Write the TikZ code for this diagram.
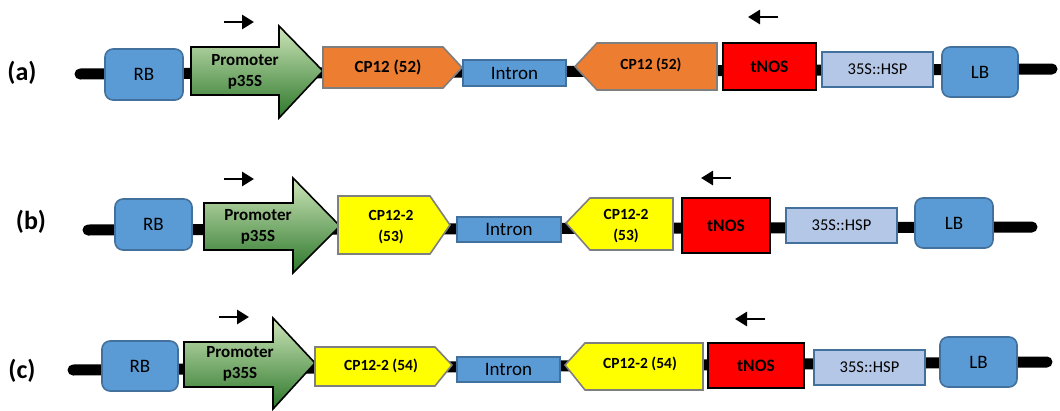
\documentclass[tikz,border=0pt]{standalone}
\usepackage{fontspec}
\setmainfont{Carlito}
\usetikzlibrary{arrows.meta}
\definecolor{bfill}{HTML}{5B9BD5}
\definecolor{bdraw}{HTML}{41719C}
\definecolor{lbfill}{HTML}{B4C7E7}
\definecolor{ofill}{HTML}{ED7D31}
\definecolor{yfill}{HTML}{FFFF00}
\definecolor{rfill}{HTML}{FF0000}
\definecolor{gtop}{HTML}{CDE5B9}
\definecolor{gbot}{HTML}{2C772A}
\definecolor{gborder}{HTML}{7F7F7F}
\tikzset{
  backbone/.style={line width=11pt, line cap=round, black},
  rbox/.style={draw=bdraw, fill=bfill, line width=1.6pt, rounded corners=8pt, inner sep=0pt, font=\fontsize{19}{22}\selectfont},
  intronbox/.style={draw=bdraw, fill=bfill, line width=1.6pt, inner sep=0pt, font=\fontsize{19}{22}\selectfont},
  hspbox/.style={draw=bdraw, fill=lbfill, line width=1.6pt, inner sep=0pt, font=\fontsize{16.5}{19}\selectfont},
  tnosbox/.style={draw=black, fill=rfill, line width=2pt, inner sep=0pt, font=\bfseries\fontsize{17.5}{20}\selectfont},
  promshape/.style={draw=black, line width=1.6pt, top color=gtop, bottom color=gbot, line join=miter},
  orshape/.style={draw=gborder, fill=ofill, line width=1.6pt},
  yeshape/.style={draw=gborder, fill=yfill, line width=1.6pt},
  promtext/.style={align=center, inner sep=0pt, font=\bfseries\fontsize{17}{21}\selectfont},
  cptext/.style={align=center, inner sep=0pt, font=\bfseries\fontsize{17}{21}\selectfont},
  cpsmall/.style={align=center, inner sep=0pt, font=\bfseries\fontsize{15.5}{21}\selectfont},
  rowlabel/.style={inner sep=0pt, font=\bfseries\fontsize{26}{30}\selectfont},
  dirarrow/.style={line width=2.8pt, -{Triangle[length=12pt,width=14pt]}},
}
\begin{document}
\begin{tikzpicture}[x=1pt,y=-1pt]
\useasboundingbox (0,0) rectangle (1060,410);
% ---------------- row (a)
\node[rowlabel] (la) at (22,73) {(a)};
\coordinate (aL) at (80,74);
\coordinate (aR) at (1052,69);
\draw[backbone] (aL) -- (aR);
\node[rbox, minimum width=78pt, minimum height=51pt] (aRB) at (144,74.5) {RB};
\path[promshape] (191,47) -- (279,47) -- (279,26) -- (323,71) -- (279,118) -- (279,95) -- (191,95) -- cycle;
\node[promtext] (aProm) at (245,72) {Promoter\\p35S};
\path[orshape] (323,47) -- (443,47) -- (462,67.5) -- (443,88) -- (323,88) -- cycle;
\node[cptext] (aCPf) at (388,67) {CP12 (52)};
\node[intronbox, minimum width=103pt, minimum height=26pt] (aIntron) at (514.5,73) {Intron};
\path[orshape] (575,66.5) -- (597,43) -- (717,43) -- (717,90) -- (597,90) -- cycle;
\node[cpsmall] (aCPr) at (651,65) {CP12 (52)};
\node[tnosbox, minimum width=93pt, minimum height=47pt] (aT) at (769.5,66.5) {tNOS};
\node[hspbox, minimum width=111pt, minimum height=35pt] (aH) at (877.5,69.5) {35S::HSP};
\node[rbox, minimum width=76pt, minimum height=50pt] (aLB) at (980,72) {LB};
\coordinate (aA1) at (224,22); \coordinate (aA2) at (254,22);
\draw[dirarrow] (aA1) -- (aA2);
\coordinate (aB1) at (778,17); \coordinate (aB2) at (748,17);
\draw[dirarrow] (aB1) -- (aB2);
% ---------------- row (b)
\node[rowlabel] (lb) at (31,222) {(b)};
\coordinate (bL) at (88,230);
\coordinate (bR) at (1032,227);
\draw[backbone] (bL) -- (bR);
\node[rbox, minimum width=77pt, minimum height=51pt] (bRB) at (153.5,224.5) {RB};
\path[promshape] (204,203) -- (293,203) -- (293,178) -- (340,226) -- (293,273) -- (293,250) -- (204,250) -- cycle;
\node[promtext] (bProm) at (258,227) {Promoter\\p35S};
\path[yeshape] (338,196) -- (430,196) -- (450,225) -- (430,254) -- (338,254) -- cycle;
\node[cpsmall] (bCPf) at (391,227) {CP12-2\\(53)};
\node[intronbox, minimum width=104pt, minimum height=25pt] (bIntron) at (509,229.5) {Intron};
\path[yeshape] (566,223) -- (590,198) -- (673,198) -- (673,250) -- (590,250) -- cycle;
\node[cpsmall] (bCPr) at (626,226) {CP12-2\\(53)};
\node[tnosbox, minimum width=88pt, minimum height=55pt] (bT) at (726,225.5) {tNOS};
\node[hspbox, minimum width=111pt, minimum height=35pt] (bH) at (841.5,225.5) {35S::HSP};
\node[rbox, minimum width=78pt, minimum height=50pt] (bLB) at (954,223) {LB};
\coordinate (bA1) at (224,179); \coordinate (bA2) at (254,179);
\draw[dirarrow] (bA1) -- (bA2);
\coordinate (bB1) at (731,178); \coordinate (bB2) at (701,178);
\draw[dirarrow] (bB1) -- (bB2);
% ---------------- row (c)
\node[rowlabel] (lc) at (22,371) {(c)};
\coordinate (cL) at (73,370);
\coordinate (cR) at (1047,362);
\draw[backbone] (cL) -- (cR);
\node[rbox, minimum width=76pt, minimum height=50pt] (cRB) at (140,366) {RB};
\path[promshape] (184,342) -- (273,342) -- (273,318) -- (315,363) -- (273,409) -- (273,387) -- (184,387) -- cycle;
\node[promtext] (cProm) at (240,364) {Promoter\\p35S};
\path[yeshape] (315,347) -- (435,347) -- (452,365) -- (435,386) -- (315,386) -- cycle;
\node[cpsmall] (cCPf) at (381,366) {CP12-2 (54)};
\node[intronbox, minimum width=103pt, minimum height=25pt] (cIntron) at (508.5,369.5) {Intron};
\path[yeshape] (565,365) -- (585,343) -- (703,343) -- (703,390) -- (585,390) -- cycle;
\node[cpsmall] (cCPr) at (640,364) {CP12-2 (54)};
\node[tnosbox, minimum width=96pt, minimum height=45pt] (cT) at (756,365.5) {tNOS};
\node[hspbox, minimum width=111pt, minimum height=35pt] (cH) at (869.5,367.5) {35S::HSP};
\node[rbox, minimum width=77pt, minimum height=50pt] (cLB) at (978.5,362) {LB};
\coordinate (cA1) at (219,317); \coordinate (cA2) at (249,317);
\draw[dirarrow] (cA1) -- (cA2);
\coordinate (cB1) at (765,319); \coordinate (cB2) at (735,319);
\draw[dirarrow] (cB1) -- (cB2);
\end{tikzpicture}
\end{document}
